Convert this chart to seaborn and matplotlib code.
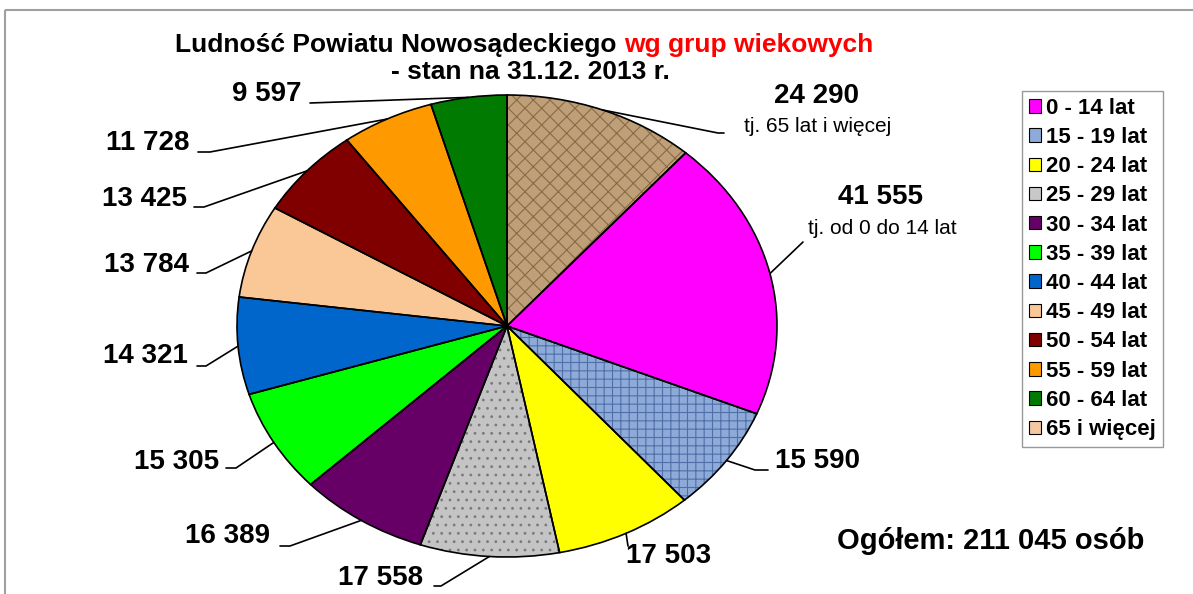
import numpy as np
import matplotlib
matplotlib.use("Agg")
import matplotlib.pyplot as plt
import matplotlib.patches as mpatches
from matplotlib.lines import Line2D
import seaborn as sns

# data, clockwise from 12 o'clock
groups = ["65 i więcej", "0 - 14 lat", "15 - 19 lat", "20 - 24 lat", "25 - 29 lat",
          "30 - 34 lat", "35 - 39 lat", "40 - 44 lat", "45 - 49 lat", "50 - 54 lat",
          "55 - 59 lat", "60 - 64 lat"]
people = [24290, 41555, 15590, 17503, 17558, 16389, 15305, 14321, 13784, 13425, 11728, 9597]
wedge_colors = ["#bf9f78", "#ff00ff", "#8eaad8", "#ffff00", "#c4c4c4", "#660066",
                "#00ff00", "#0066cc", "#fac896", "#800000", "#ff9900", "#007a00"]
hatches = ["xx", None, "++", None, "..", None, None, None, None, None, None, None]
hatch_colors = ["#8a6a44", None, "#4f6fa8", None, "#7a7a7a", None, None, None, None, None, None, None]
legend_order = ["0 - 14 lat", "15 - 19 lat", "20 - 24 lat", "25 - 29 lat", "30 - 34 lat",
                "35 - 39 lat", "40 - 44 lat", "45 - 49 lat", "50 - 54 lat", "55 - 59 lat",
                "60 - 64 lat", "65 i więcej"]
legend_colors = ["#ff00ff", "#8eaad8", "#ffff00", "#c8c8c8", "#660066", "#00ff00",
                 "#0066cc", "#fac896", "#800000", "#ff9900", "#007a00", "#f5c8a0"]
sub_labels = {"65 i więcej": "tj. 65 lat i więcej", "0 - 14 lat": "tj. od 0 do 14 lat"}

W, H = 1193, 594
sns.set_theme(style="white")
plt.rcParams["font.family"] = ["Liberation Sans", "DejaVu Sans"]
plt.rcParams["hatch.linewidth"] = 0.8
plt.rcParams["text.color"] = "black"

fig = plt.figure(figsize=(W / 100, H / 100), dpi=100)
fig.patch.set_facecolor("white")


def px(x, y):
    # pixel (top-left origin) -> figure fraction
    return x / W, 1 - y / H


# outer frame of the slide
fig.add_artist(mpatches.Rectangle(px(5, 10), 2, -2, transform=fig.transFigure,
                                  fill=False, edgecolor="#a0a0a0", linewidth=1.5,
                                  clip_on=False))

# pie axes, stretched to an ellipse
ax = fig.add_axes([237 / W, 1 - 557 / H, 540 / W, 462 / H])
pal = sns.color_palette(wedge_colors)
wedges, _ = ax.pie(people, colors=pal, startangle=90, counterclock=False,
                   radius=1, wedgeprops=dict(linewidth=0))
for w, h, hc in zip(wedges, hatches, hatch_colors):
    if h:
        w.set_hatch(h)
        w.set_edgecolor(hc)
outline, _ = ax.pie(people, colors=["none"] * len(people), startangle=90,
                    counterclock=False, radius=1,
                    wedgeprops=dict(linewidth=1.2, edgecolor="black"))
ax.set_aspect("auto")
ax.set_xlim(-1, 1)
ax.set_ylim(-1, 1)
ax.axis("off")

# label placement (pixels): text anchor + alignment, elbow, tail end
text_pos = [(816, 96), (880, 197), (775, 461), (626, 556), (423, 578), (270, 536),
            (219, 462), (188, 356), (189, 265), (187, 199), (190, 143), (302, 94)]
text_ha = ["center", "center", "left", "left", "right", "right",
           "right", "right", "right", "right", "right", "right"]
elbows = [(718, 133), (803, 242), (755, 470), (628, 546), (441, 586), (290, 546),
          (236, 468), (206, 366), (206, 273), (204, 207), (210, 152), (310, 103)]
tails = [(724, 133), (803, 242), (768, 470), (628, 546), (434, 586), (280, 546),
         (226, 468), (197, 366), (197, 273), (194, 207), (198, 152), (310, 103)]

for w, grp, n, tp, ha, el, tl in zip(outline, groups, people, text_pos, text_ha, elbows, tails):
    mid = np.deg2rad((w.theta1 + w.theta2) / 2)
    edge = ax.transData.transform((np.cos(mid), np.sin(mid)))
    edge = fig.transFigure.inverted().transform(edge)
    xs = [edge[0], px(*el)[0], px(*tl)[0]]
    ys = [edge[1], px(*el)[1], px(*tl)[1]]
    fig.add_artist(Line2D(xs, ys, color="black", linewidth=1.2))
    fig.text(*px(*tp), f"{n:,}".replace(",", " "), ha=ha, va="center",
             fontsize=20, fontweight="bold", color="black")
    if grp in sub_labels:
        fig.text(*px(tp[0] + 2, tp[1] + 31), sub_labels[grp], ha="center", va="center",
                 fontsize=15, color="black")

# title
t1 = fig.text(*px(175, 45), "Ludność Powiatu Nowosądeckiego ", ha="left", va="center",
              fontsize=19, fontweight="bold", color="black")
fig.canvas.draw()
bb = t1.get_window_extent()
fig.text(bb.x1 / W, 1 - 45 / H, "wg grup wiekowych", ha="left", va="center",
         fontsize=19, fontweight="bold", color="#ff0000")
fig.text(*px(530, 72), "- stan na 31.12. 2013 r.", ha="center", va="center",
         fontsize=19, fontweight="bold", color="black")

total = sum(people)
fig.text(*px(991, 541), f"Ogółem: {total:,} osób".replace(",", " "), ha="center",
         va="center", fontsize=21, fontweight="bold", color="black")

# legend
handles = [mpatches.Patch(facecolor=c, edgecolor="black", linewidth=0.8) for c in legend_colors]
leg = fig.legend(handles, legend_order, loc="upper left",
                 bbox_to_anchor=px(1022, 91), frameon=True, fancybox=False,
                 prop=dict(size=16, weight="bold"), labelspacing=0.37,
                 handlelength=0.55, handleheight=0.55, handletextpad=0.25,
                 borderpad=0.3, borderaxespad=0, labelcolor="black")
leg.get_frame().set_edgecolor("#808080")
leg.get_frame().set_linewidth(1.0)

fig.savefig("out.png", dpi=100)
